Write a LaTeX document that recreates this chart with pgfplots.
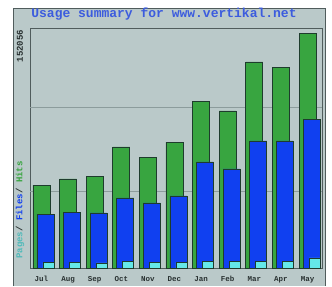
\documentclass[border=0pt]{standalone}
\usepackage{fontspec}
\usepackage{pgfplots}
\pgfplotsset{compat=1.18}
\usepackage{pgfplotstable}
\newfontfamily\mono{Liberation Mono}
\definecolor{bgc}{RGB}{186,201,201}
\definecolor{framec}{RGB}{80,92,92}
\definecolor{gridc}{RGB}{140,156,156}
\definecolor{hitsc}{RGB}{56,165,64}
\definecolor{filesc}{RGB}{16,64,240}
\definecolor{pagesc}{RGB}{100,232,232}
\definecolor{edgec}{RGB}{30,60,45}
\definecolor{titlec}{RGB}{60,92,222}
\definecolor{darkc}{RGB}{40,48,48}

\pgfplotstableread{
x hits files pages
0 53700 34900 3500
1 57600 36200 3600
2 59500 35600 3300
3 78300 45300 4500
4 71800 42100 3800
5 81500 46600 3700
6 108000 68600 4100
7 101600 64100 4000
8 133300 82200 4300
9 130000 82200 4200
10 152056 96400 6500
}\datatable

\begin{document}
\begin{tikzpicture}[x=1pt,y=1pt]
\fill[white] (0,0) rectangle (332,286);
\fill[bgc] (13,0) rectangle (325,278);
\draw[framec, line width=0.8pt] (13,0) -- (13,278) -- (325,278) -- (325,0);
\begin{axis}[
  at={(30pt,18pt)}, anchor=south west,
  scale only axis, width=292pt, height=240pt,
  xmin=-0.432, xmax=10.545, ymin=0, ymax=155300,
  axis line style={draw=framec, line width=0.8pt},
  xtick={0,...,10},
  xticklabels={Jul,Aug,Sep,Oct,Nov,Dec,Jan,Feb,Mar,Apr,May},
  xticklabel style={font=\mono\bfseries\fontsize{7.5}{8}\selectfont, text=darkc, yshift=-5pt},
  ytick=\empty,
  major tick length=0pt,
  extra y ticks={49800,104200},
  extra y tick labels={},
  extra y tick style={grid=major, major grid style={draw=gridc, line width=0.8pt}},
  clip=true,
]
\addplot[ybar, bar width=17pt, bar shift=0pt, fill=hitsc, draw=edgec, line width=0.7pt] table[x=x,y=hits] {\datatable};
\addplot[ybar, bar width=17pt, bar shift=4pt, fill=filesc, draw=edgec, line width=0.7pt] table[x=x,y=files] {\datatable};
\addplot[ybar, bar width=11pt, bar shift=7pt, fill=pagesc, draw=edgec, line width=0.7pt] table[x=x,y=pages] {\datatable};
\end{axis}
\node[font=\mono\bfseries\fontsize{13}{14}\selectfont, text=titlec] at (164,272) {Usage summary for www.vertikal.net};
\node[font=\mono\bfseries\fontsize{9}{10}\selectfont, text=darkc, rotate=90] at (20,240) {152056};
\node[font=\mono\bfseries\fontsize{9}{10}\selectfont, rotate=90] at (20,76) {\textcolor{pagesc!80!black}{Pages}\textcolor{darkc}{ / }\textcolor{filesc}{Files}\textcolor{darkc}{ / }\textcolor{hitsc}{Hits}};
\end{tikzpicture}
\end{document}
